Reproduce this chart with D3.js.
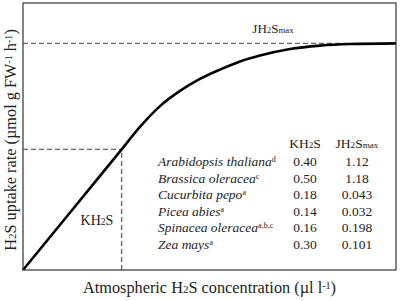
<!DOCTYPE html>
<html>
<head>
<meta charset="utf-8">
<script src="https://cdn.jsdelivr.net/npm/d3@7"></script>
<style>
  body { margin: 0; background: #fff; }
  svg { display: block; font-family: 'Liberation Serif', 'DejaVu Serif', serif; }
</style>
</head>
<body>
<div id="chart"></div>
<script>
// curve (x in units of KH2S, y in units of JH2Smax)
const curveX = [0, 0.5, 1.0, 1.185, 1.388, 1.591, 1.793, 1.996, 2.199, 2.402, 2.706, 3.01, 3.314, 3.78]
const curveY = [0, 0.266, 0.532, 0.631, 0.723, 0.79, 0.843, 0.884, 0.92, 0.946, 0.975, 0.99, 0.997, 1.0]

const kPoint = { x: 1.0, y: 0.532 }
const jMax = 1.0
const jDashEnd = 3.28

const species = ['Arabidopsis thaliana', 'Brassica oleracea', 'Cucurbita pepo', 'Picea abies', 'Spinacea oleracea', 'Zea mays']
const speciesRefs = ['d', 'c', 'a', 'a', 'a,b,c', 'a']
const kValues = ['0.40', '0.50', '0.18', '0.14', '0.16', '0.30']
const jValues = ['1.12', '1.18', '0.043', '0.032', '0.198', '0.101']

const width = 400
const height = 301
const margin = { top: 3, right: 4, bottom: 31, left: 23 }
const TEXT = '#222'
const DASH = '#666'

const svg = d3.select('#chart').append('svg')
  .attr('width', width)
  .attr('height', height)

const x = d3.scaleLinear().domain([0, 3.78]).range([margin.left, width - margin.right])
const y = d3.scaleLinear().domain([0, 1.178]).range([height - margin.bottom, margin.top])

// dashed guides
const dashed = (x1, y1, x2, y2) => svg.append('line')
  .attr('x1', x(x1)).attr('y1', y(y1))
  .attr('x2', x(x2)).attr('y2', y(y2))
  .attr('stroke', DASH)
  .attr('stroke-width', 1.3)
  .style('stroke-dasharray', '5, 3')

dashed(0, jMax, jDashEnd, jMax)
dashed(0, kPoint.y, kPoint.x, kPoint.y)
dashed(kPoint.x, 0, kPoint.x, kPoint.y)

// the uptake curve
const pts = curveX.map((d, i) => [d, curveY[i]])
svg.append('path')
  .datum(pts)
  .attr('fill', 'none')
  .attr('stroke', '#000')
  .attr('stroke-width', 2.6)
  .attr('d', d3.line().x(d => x(d[0])).y(d => y(d[1])).curve(d3.curveMonotoneX))

// frame
svg.append('rect')
  .attr('x', x(0)).attr('y', margin.top)
  .attr('width', x.range()[1] - x(0))
  .attr('height', y(0) - margin.top)
  .attr('fill', 'none')
  .attr('stroke', '#333')
  .attr('stroke-width', 1.2)

// label helper: H2S style text with small subscripts
const chem = (g, parts, size) => {
  parts.forEach(p => {
    const t = g.append('tspan').text(p.t)
    if (p.sub) t.attr('font-size', size * 0.68)
    if (p.sup) t.attr('font-size', size * 0.62).attr('baseline-shift', '40%')
  })
  return g
}

chem(svg.append('text')
  .attr('x', 273).attr('y', 33)
  .attr('text-anchor', 'middle')
  .attr('font-size', 13)
  .attr('fill', TEXT),
  [{ t: 'JH' }, { t: '2', sub: 1 }, { t: 'S' }, { t: 'max', sub: 1 }], 13)

chem(svg.append('text')
  .attr('x', 97).attr('y', 225)
  .attr('text-anchor', 'middle')
  .attr('font-size', 14)
  .attr('fill', TEXT),
  [{ t: 'KH' }, { t: '2', sub: 1 }, { t: 'S' }], 14)

// table
const rowY = d3.scalePoint().domain(species).range([166, 248.5])
const colK = 305
const colJ = 357

chem(svg.append('text').attr('x', colK).attr('y', 148)
  .attr('text-anchor', 'middle').attr('font-size', 13.5).attr('fill', TEXT),
  [{ t: 'KH' }, { t: '2', sub: 1 }, { t: 'S' }], 13.5)
chem(svg.append('text').attr('x', colJ).attr('y', 148)
  .attr('text-anchor', 'middle').attr('font-size', 13.5).attr('fill', TEXT),
  [{ t: 'JH' }, { t: '2', sub: 1 }, { t: 'S' }, { t: 'max', sub: 1 }], 13.5)

const rows = svg.append('g').selectAll('g')
  .data(species)
  .join('g')
  .attr('transform', d => `translate(0,${rowY(d)})`)

rows.append('text')
  .attr('x', 158)
  .attr('font-size', 13.5)
  .attr('font-style', 'italic')
  .attr('fill', TEXT)
  .each(function(d, i) {
    const t = d3.select(this)
    t.append('tspan').text(d)
    t.append('tspan').text(speciesRefs[i])
      .attr('font-size', 8)
      .attr('font-style', 'normal')
      .attr('baseline-shift', '45%')
  })

rows.append('text')
  .attr('x', colK)
  .attr('text-anchor', 'middle')
  .attr('font-size', 13.5)
  .attr('fill', TEXT)
  .text((d, i) => kValues[i])

rows.append('text')
  .attr('x', colJ)
  .attr('text-anchor', 'middle')
  .attr('font-size', 13.5)
  .attr('fill', TEXT)
  .text((d, i) => jValues[i])

// axis titles
chem(svg.append('text')
  .attr('x', (x.range()[0] + x.range()[1]) / 2).attr('y', 293)
  .attr('text-anchor', 'middle')
  .attr('font-size', 16.3)
  .attr('fill', TEXT),
  [{ t: 'Atmospheric H' }, { t: '2', sub: 1 }, { t: 'S concentration (µl l' }, { t: '-1', sup: 1 }, { t: ')' }], 16.3)

chem(svg.append('text')
  .attr('transform', 'translate(16,140) rotate(-90)')
  .attr('text-anchor', 'middle')
  .attr('font-size', 16.3)
  .attr('fill', TEXT),
  [{ t: 'H' }, { t: '2', sub: 1 }, { t: 'S uptake rate (µmol g FW' }, { t: '-1', sup: 1 }, { t: ' h' }, { t: '-1', sup: 1 }, { t: ')' }], 16.3)
</script>
</body>
</html>
